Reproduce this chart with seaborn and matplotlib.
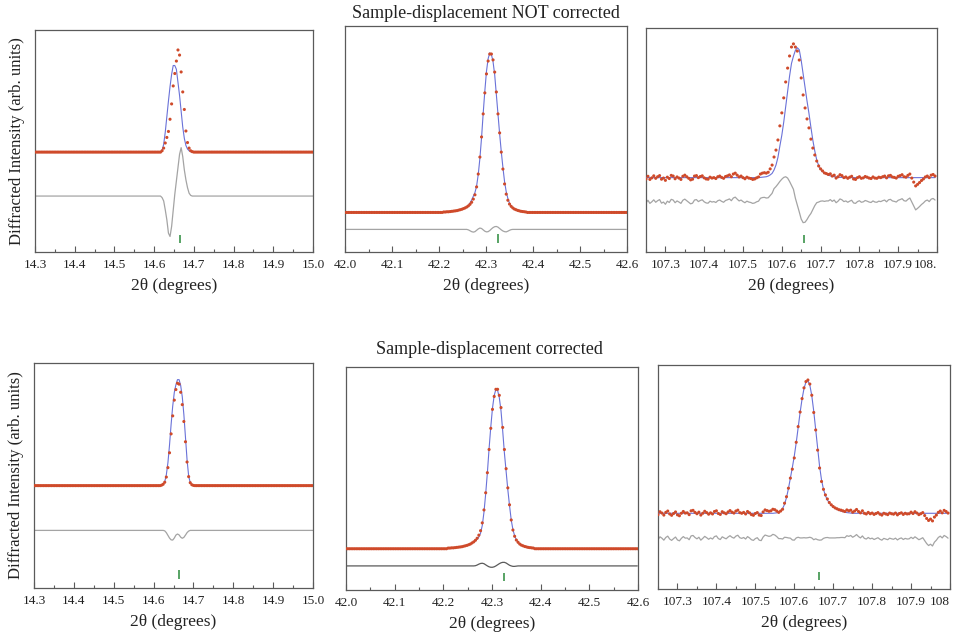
"""
Rietveld fit details for three reflections, before and after the
sample-displacement correction: observed points, calculated profile,
difference curve and reflection markers.
"""

import numpy as np
import matplotlib
matplotlib.use('Agg')
import matplotlib.pyplot as plt
from matplotlib.ticker import MultipleLocator
import seaborn as sns

# ---- scan grids: first 2theta, step, number of points ----
SCAN_14 = (14.30, 0.004, 176)
SCAN_42 = (42.00, 0.0035, 172)
SCAN_107 = (107.25, 0.005, 150)

XLIM_14 = (14.3, 15.0)
XLIM_42 = (42.0, 42.6)
XLIM_107 = (107.25, 108.0)
TICKS_14 = [14.3, 14.4, 14.5, 14.6, 14.7, 14.8, 14.9, 15.0]
TICKS_42 = [42.0, 42.1, 42.2, 42.3, 42.4, 42.5, 42.6]
TICKS_107 = [107.3, 107.4, 107.5, 107.6, 107.7, 107.8, 107.9, 108.0]
LABELS_14 = ['14.3', '14.4', '14.5', '14.6', '14.7', '14.8', '14.9', '15.0']
LABELS_42 = ['42.0', '42.1', '42.2', '42.3', '42.4', '42.5', '42.6']
LABELS_107_TOP = ['107.3', '107.4', '107.5', '107.6', '107.7', '107.8', '107.9', '108.']
LABELS_107_BOT = ['107.3', '107.4', '107.5', '107.6', '107.7', '107.8', '107.9', '108']

# intensities are in % of the panel height
# levels = (observed background, calculated background, difference baseline)

# ---- top row: displacement NOT corrected ----
P1_LEVELS = (45.0, 45.0, 25.2)
P1_START = 80
P1_OBS = [45.6, 46.8, 49.1, 51.6, 54.3, 59.8, 66.7, 74.8, 80.4, 86.0, 91.0,
          88.7, 81.1, 72.1, 64.2, 54.5, 49.3, 46.8, 45.6, 45.2, 45.0]
P1_CALC = [45.8, 48.5, 54.0, 61.0, 68.0, 74.5, 80.0, 84.0, 84.0, 82.3, 76.5,
           70.5, 63.5, 56.3, 51.2, 48.0, 46.4, 45.6, 45.2, 45.0, 45.0]
P1_DIFF = [24.5, 23.0, 19.0, 14.5, 8.5, 7.0, 11.5, 19.0, 26.0, 32.0, 38.0,
           44.0, 47.0, 43.0, 37.0, 32.5, 29.0, 26.5, 25.5, 25.2, 25.2]
P1_TICK = [14.665]

P2_LEVELS = (17.5, 17.5, 10.0)
P2_START = 60
P2_OBS = [17.7, 17.7, 17.8, 17.8, 17.9, 18.0, 18.1, 18.2, 18.3, 18.5,
          18.7, 18.9, 19.2, 19.5, 19.9, 20.4, 21.1, 22.0, 23.4, 25.3,
          28.8, 34.5, 42.0, 50.9, 61.1, 70.4, 78.8, 84.5, 87.6, 87.6,
          85.0, 79.6, 70.8, 61.1, 52.7, 44.2, 36.7, 30.1, 25.6, 22.9,
          21.2, 20.2, 19.5, 19.0, 18.7, 18.4, 18.2, 18.0, 17.9, 17.8, 17.7]
P2_CALC = [17.7, 17.7, 17.8, 17.8, 17.9, 18.0, 18.1, 18.2, 18.3, 18.5,
           18.7, 18.9, 19.2, 19.5, 19.9, 20.6, 21.7, 23.0, 24.6, 26.3,
           29.2, 34.3, 41.4, 50.5, 61.3, 71.2, 79.9, 85.5, 88.1, 87.4,
           84.2, 78.4, 69.5, 60.1, 52.3, 44.4, 37.4, 31.1, 26.7, 23.7,
           21.6, 20.3, 19.5, 19.0, 18.7, 18.4, 18.2, 18.0, 17.9, 17.8, 17.7]
P2_DIFF = [10.0, 10.0, 10.0, 10.0, 10.0, 10.0, 10.0, 10.0, 10.0, 10.0,
           10.0, 10.0, 10.0, 10.0, 10.0, 9.8, 9.4, 9.0, 8.8, 9.0,
           9.6, 10.2, 10.6, 10.4, 9.8, 9.2, 8.9, 9.0, 9.5, 10.2,
           10.8, 11.2, 11.3, 11.0, 10.4, 9.8, 9.3, 9.0, 8.9, 9.2,
           9.6, 9.9, 10.0, 10.0, 10.0, 10.0, 10.0, 10.0, 10.0, 10.0, 10.0]
P2_TICK = [42.325]

P3_LEVELS = (None, 33.2, 22.5)
P3_OBS = [32.6, 33.8, 32.4, 33.1, 34.0, 32.9, 33.6, 34.1, 32.5, 33.0,
          32.0, 33.4, 32.8, 34.2, 33.9, 32.7, 33.5, 33.0, 32.4, 33.8,
          34.3, 33.6, 32.9, 32.2, 32.5, 33.9, 34.1, 33.2, 33.7, 34.0,
          33.1, 32.6, 32.5, 33.4, 33.0, 33.2, 32.8, 33.6, 33.9, 33.3,
          32.9, 33.7, 34.0, 34.4, 33.6, 34.8, 35.2, 34.3, 33.5, 33.9,
          33.2, 32.7, 33.4, 33.0, 32.8, 32.4, 32.6, 33.1, 33.5, 34.8,
          35.2, 35.4, 35.2, 35.6, 37.1, 38.8, 42.4, 45.5, 50.0, 56.3,
          62.1, 68.8, 75.9, 82.1, 87.5, 91.5, 92.9, 91.5, 89.7, 85.7,
          77.7, 70.1, 64.3, 59.4, 55.4, 50.4, 46.4, 43.3, 40.6, 38.4,
          37.1, 36.2, 35.3, 35.0, 34.6, 34.9, 33.9, 34.3, 33.0, 33.6,
          34.5, 34.1, 33.2, 33.5, 32.9, 33.4, 33.8, 32.6, 32.4, 33.2,
          33.6, 32.9, 33.1, 33.7, 33.4, 33.0, 32.8, 33.5, 33.0, 32.9,
          33.4, 33.2, 33.6, 33.9, 33.1, 34.0, 34.2, 33.5, 33.3, 33.0,
          33.8, 34.1, 34.5, 33.6, 33.4, 34.2, 34.8, 33.0, 31.2, 29.5,
          30.2, 31.0, 31.9, 32.6, 33.5, 33.9, 33.2, 34.3, 34.6, 33.9]
P3_START = 56
P3_CALC = [33.2, 33.2, 33.3, 33.3, 33.4, 33.5, 33.6, 33.9, 34.4, 35.1,
           36.6, 38.8, 42.2, 47.3, 52.1, 58.0, 64.8, 71.6, 78.5, 84.2,
           87.4, 90.0, 91.2, 90.3, 85.5, 79.5, 73.5, 67.4, 61.9, 55.7,
           49.9, 45.1, 41.1, 38.6, 36.9, 35.9, 35.2, 34.7, 34.3, 34.0,
           33.8, 33.6, 33.5, 33.4, 33.3, 33.3, 33.2, 33.2, 33.2]
P3_TICK = [107.656]

# ---- bottom row: displacement corrected ----
P4_LEVELS = (45.5, 45.5, 25.6)
P4_START = 80
P4_OBS = [45.7, 46.1, 47.0, 49.3, 53.5, 60.1, 68.5, 76.5, 83.5, 88.2, 91.0,
          90.6, 87.0, 81.5, 74.0, 65.0, 56.0, 49.5, 46.8, 45.9, 45.6]
P4_CALC = [45.7, 46.1, 47.2, 50.3, 55.7, 63.5, 72.7, 80.8, 86.9, 90.3, 92.6,
           92.6, 90.0, 85.0, 77.1, 67.1, 57.0, 49.8, 46.8, 45.9, 45.6]
P4_DIFF = [25.6, 25.6, 25.4, 24.6, 23.4, 22.2, 21.4, 21.3, 22.2, 23.5, 24.0,
           23.6, 22.6, 22.1, 22.5, 23.5, 24.6, 25.3, 25.6, 25.6, 25.6]
P4_TICK = [14.665]

P5_LEVELS = (18.5, 18.5, 10.8)
P5_START = 60
P5_OBS = [18.8, 18.8, 18.9, 18.9, 19.0, 19.1, 19.2, 19.3, 19.4, 19.6,
          19.8, 20.0, 20.3, 20.6, 21.1, 21.6, 22.3, 23.2, 24.6, 26.6,
          30.1, 35.9, 43.6, 52.6, 63.0, 72.5, 81.0, 86.8, 90.0, 90.0,
          87.3, 81.8, 72.9, 63.0, 54.4, 45.8, 38.2, 31.4, 26.9, 24.1,
          22.4, 21.4, 20.6, 20.1, 19.8, 19.5, 19.3, 19.1, 19.0, 18.9, 18.8]
P5_CALC = [18.8, 18.8, 18.9, 18.9, 19.0, 19.1, 19.2, 19.3, 19.4, 19.6,
           19.8, 20.0, 20.3, 20.6, 21.1, 21.6, 22.2, 22.8, 23.8, 25.5,
           28.9, 34.9, 43.1, 52.6, 63.4, 73.1, 81.6, 87.2, 90.0, 89.5,
           86.3, 80.4, 71.3, 61.4, 53.1, 45.0, 37.9, 31.4, 27.1, 24.3,
           22.5, 21.4, 20.6, 20.1, 19.8, 19.5, 19.3, 19.1, 19.0, 18.9, 18.8]
P5_DIFF = [10.8, 10.8, 10.8, 10.8, 10.8, 10.8, 10.8, 10.8, 10.8, 10.8,
           10.8, 10.8, 10.8, 10.8, 10.8, 10.8, 10.9, 11.2, 11.6, 11.9,
           12.0, 11.8, 11.3, 10.8, 10.4, 10.2, 10.2, 10.4, 10.8, 11.3,
           11.8, 12.2, 12.4, 12.4, 12.1, 11.6, 11.1, 10.8, 10.6, 10.6,
           10.7, 10.8, 10.8, 10.8, 10.8, 10.8, 10.8, 10.8, 10.8, 10.8, 10.8]
P5_TICK = [42.325]

P6_LEVELS = (None, 33.8, 22.6)
P6_OBS = [33.2, 34.5, 33.9, 33.0, 34.2, 34.8, 33.5, 32.9, 33.7, 34.4,
          33.1, 32.7, 33.8, 34.6, 33.9, 34.0, 33.2, 34.9, 35.1, 34.2,
          33.6, 34.3, 33.0, 33.8, 34.7, 34.1, 33.4, 34.0, 33.5, 34.6,
          34.9, 33.7, 33.3, 34.5, 34.0, 33.6, 34.4, 35.0, 34.3, 33.9,
          34.8, 35.2, 34.1, 33.8, 34.2, 33.5, 34.6, 34.0, 33.2, 32.9,
          33.7, 34.1, 33.0, 32.8, 34.4, 35.3, 35.0, 34.7, 34.9, 35.6,
          35.4, 34.8, 34.2, 34.8, 35.6, 38.3, 41.2, 45.0, 49.5, 53.5,
          58.5, 65.5, 72.5, 79.0, 85.0, 89.8, 92.6, 93.3, 91.5, 86.5,
          78.8, 71.0, 62.0, 54.0, 48.0, 44.5, 42.0, 40.2, 38.6, 37.6,
          36.8, 36.2, 35.8, 35.4, 35.2, 34.9, 34.6, 35.3, 34.9, 35.2,
          34.3, 34.8, 35.5, 34.6, 34.0, 34.9, 33.8, 33.5, 34.2, 33.6,
          33.9, 33.3, 33.7, 34.1, 33.4, 33.0, 33.8, 33.5, 33.2, 33.9,
          33.6, 33.4, 33.9, 33.1, 33.7, 34.0, 33.3, 33.8, 33.5, 33.6,
          34.3, 33.7, 34.5, 33.9, 33.2, 33.6, 34.1, 32.8, 31.5, 30.6,
          31.2, 30.4, 32.1, 33.0, 34.2, 34.8, 34.0, 35.1, 34.6, 33.9]
P6_START = 60
P6_CALC = [33.9, 34.0, 34.3, 34.9, 35.9, 37.8, 40.8, 44.8, 49.4, 54.2,
           59.3, 65.3, 72.0, 78.8, 84.8, 89.5, 92.4, 93.0, 91.0, 86.3,
           79.4, 71.2, 62.6, 54.8, 48.7, 44.5, 41.7, 39.8, 38.4, 37.4,
           36.6, 36.0, 35.5, 35.1, 34.8, 34.5, 34.3, 34.1, 34.0, 33.9, 33.8]
P6_TICK = [107.663]

# reflection markers span (same units as intensities)
TICK_SPAN = (4.0, 7.8)

OBS_COLOR = '#cf4a2a'
CALC_COLOR = '#6a72d8'
DIFF_COLOR = '#a4a4a4'
DIFF_DARK = '#5a5a5a'
MARK_COLOR = '#2a8a3a'
SPINE_COLOR = '#5a5a5a'
TEXT_COLOR = '#222222'

W, H = 955, 639


def set_style():
    """Plain white seaborn style with a Times-like serif font."""
    sns.set_theme(style='white')
    plt.rcParams['font.family'] = ['Liberation Serif', 'DejaVu Serif']


def profile(scan, level, start, values):
    """Full-length profile: flat level with the listed values in their window."""
    n = scan[2]
    y = np.full(n, level, dtype=float)
    y[start:start + len(values)] = values
    return y


def scan_x(scan):
    x0, step, n = scan
    return x0 + step * np.arange(n)


def box(left, top, right, bottom):
    """Pixel box of an axes -> figure fraction rect."""
    return [left / W, 1 - bottom / H, (right - left) / W, (bottom - top) / H]


def build_panels():
    panels = []
    # clean low-noise reflections: everything listed in a window
    for rect, scan, lev, start, obs, calc, diff, tick, xlim, ticks, labels, dcol in [
        (box(35, 30, 313, 252), SCAN_14, P1_LEVELS, P1_START, P1_OBS, P1_CALC, P1_DIFF,
         P1_TICK, XLIM_14, TICKS_14, LABELS_14, DIFF_COLOR),
        (box(345, 26, 627, 252), SCAN_42, P2_LEVELS, P2_START, P2_OBS, P2_CALC, P2_DIFF,
         P2_TICK, XLIM_42, TICKS_42, LABELS_42, DIFF_COLOR),
        (box(34, 363, 313, 588), SCAN_14, P4_LEVELS, P4_START, P4_OBS, P4_CALC, P4_DIFF,
         P4_TICK, XLIM_14, TICKS_14, LABELS_14, DIFF_COLOR),
        (box(346, 367, 638, 590), SCAN_42, P5_LEVELS, P5_START, P5_OBS, P5_CALC, P5_DIFF,
         P5_TICK, XLIM_42, TICKS_42, LABELS_42, DIFF_DARK),
    ]:
        panels.append(dict(
            rect=rect, x=scan_x(scan),
            obs=profile(scan, lev[0], start, obs),
            calc=profile(scan, lev[1], start, calc),
            diff=profile(scan, lev[2], start, diff),
            tick=tick, xlim=xlim, ticks=ticks, labels=labels, dcol=dcol))
    # noisy high-angle reflection: full observed scan, difference = obs - calc
    for rect, lev, obs, start, calc, tick, labels in [
        (box(646, 28, 937, 252), P3_LEVELS, P3_OBS, P3_START, P3_CALC, P3_TICK, LABELS_107_TOP),
        (box(658, 365, 950, 589), P6_LEVELS, P6_OBS, P6_START, P6_CALC, P6_TICK, LABELS_107_BOT),
    ]:
        o = np.array(obs, dtype=float)
        c = profile(SCAN_107, lev[1], start, calc)
        panels.append(dict(
            rect=rect, x=scan_x(SCAN_107), obs=o, calc=c, diff=o - c + lev[2],
            tick=tick, xlim=XLIM_107, ticks=TICKS_107, labels=labels, dcol=DIFF_COLOR))
    return panels


def draw_panel(fig, p):
    ax = fig.add_axes(p['rect'])
    sns.lineplot(x=p['x'], y=p['diff'], ax=ax, color=p['dcol'], lw=0.9,
                 estimator=None, sort=False, zorder=2)
    sns.lineplot(x=p['x'], y=p['calc'], ax=ax, color=CALC_COLOR, lw=0.8,
                 estimator=None, sort=False, zorder=3)
    sns.scatterplot(x=p['x'], y=p['obs'], ax=ax, color=OBS_COLOR, s=5,
                    edgecolor='none', linewidth=0, zorder=4)
    ax.vlines(p['tick'], TICK_SPAN[0], TICK_SPAN[1], color=MARK_COLOR, lw=1.1, zorder=5)

    ax.set_xlim(*p['xlim'])
    ax.set_ylim(0, 100)
    ax.set_xticks(p['ticks'])
    ax.set_xticklabels(p['labels'])
    ax.xaxis.set_minor_locator(MultipleLocator(0.05))
    ax.set_yticks([])
    ax.tick_params(axis='x', which='both', direction='in', bottom=True, top=False,
                   colors=SPINE_COLOR, labelcolor=TEXT_COLOR, labelsize=9.5, pad=5)
    ax.tick_params(axis='x', which='major', length=4, width=0.8)
    ax.tick_params(axis='x', which='minor', length=2.5, width=0.8)
    for s in ax.spines.values():
        s.set_color(SPINE_COLOR)
        s.set_linewidth(0.9)
    # last label of the high-angle panels sits cut at the right edge
    if p['xlim'] == XLIM_107:
        ax.get_xticklabels()[-1].set_horizontalalignment('right')
    ax.set_xlabel('2θ (degrees)', fontsize=12.5, labelpad=5, color=TEXT_COLOR)
    ax.set_ylabel('')
    return ax


def main():
    set_style()
    fig = plt.figure(figsize=(W / 100, H / 100), dpi=100)
    axes = [draw_panel(fig, p) for p in build_panels()]

    # first column of each row carries the y label
    for ax in (axes[0], axes[2]):
        ax.set_ylabel('Diffracted Intensity (arb. units)', fontsize=12,
                      labelpad=7, color=TEXT_COLOR)

    fig.text(486 / W, 1 - 13 / H, 'Sample-displacement NOT corrected',
             ha='center', va='center', fontsize=13, color=TEXT_COLOR)
    fig.text(489 / W, 1 - 350 / H, 'Sample-displacement corrected',
             ha='center', va='center', fontsize=13, color=TEXT_COLOR)

    fig.savefig('out.png', dpi=100)


if __name__ == '__main__':
    main()
